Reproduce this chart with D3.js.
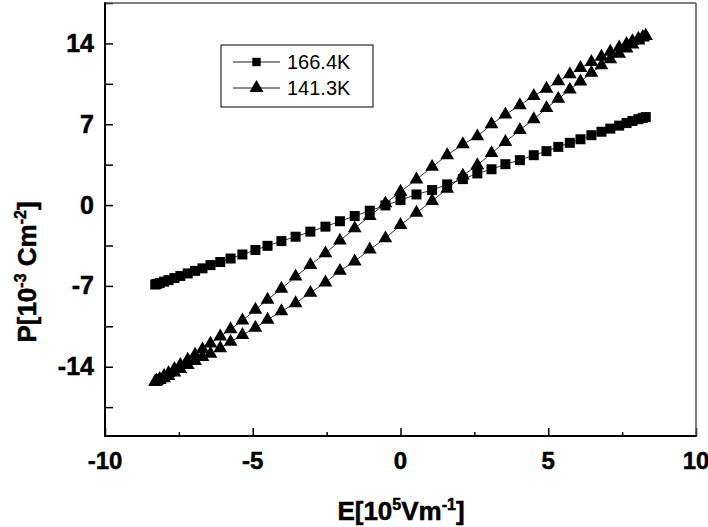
<!DOCTYPE html>
<html>
<head>
<meta charset="utf-8">
<script src="https://cdn.jsdelivr.net/npm/d3@7"></script>
<style>
  html, body { margin: 0; padding: 0; background: #fff; }
  svg { display: block; }
  text { font-family: "Liberation Sans", Arial, sans-serif; }
  .b { font-weight: 700; stroke: #000; stroke-width: 0.5px; }
</style>
</head>
<body>
<svg id="chart" width="708" height="527"></svg>
<script>
// ---- data ----
const fieldE = [-8.3,-8.25,-8.15,-8.0,-7.85,-7.65,-7.45,-7.2,-6.95,-6.7,-6.43,-6.1,-5.75,-5.35,-4.91,-4.5,-4.03,-3.55,-3.05,-2.54,-2.05,-1.55,-1.04,-0.51,0,0.54,1.07,1.58,2.11,2.6,3.08,3.55,4.04,4.51,4.94,5.34,5.73,6.09,6.46,6.8,7.1,7.4,7.65,7.85,8.05,8.2,8.3];

const p166 = [-6.88,-6.84,-6.76,-6.63,-6.50,-6.32,-6.14,-5.92,-5.70,-5.48,-5.20,-4.93,-4.63,-4.28,-3.89,-3.53,-3.12,-2.74,-2.30,-1.87,-1.40,-0.95,-0.49,-0.03,0.43,0.92,1.30,1.79,2.25,2.74,3.10,3.54,3.89,4.32,4.67,5.04,5.39,5.70,6.05,6.35,6.62,6.88,7.10,7.28,7.44,7.55,7.62];

// 141.3K: ascending branch (lower) and descending branch (upper)
const p141Up = [-15.3,-15.25,-15.15,-15.0,-14.8,-14.5,-14.2,-13.85,-13.5,-13.15,-12.88,-12.4,-11.85,-11.25,-10.62,-9.93,-9.2,-8.5,-7.6,-6.7,-5.7,-4.88,-3.85,-2.88,-1.73,-0.66,0.35,1.42,2.55,3.45,4.5,5.47,6.5,7.43,8.4,9.2,10.0,10.7,11.45,12.1,12.62,13.1,13.55,13.9,14.25,14.5,14.65];
const p141Down = [-15.3,-15.2,-15.05,-14.8,-14.55,-14.2,-13.85,-13.4,-12.95,-12.5,-12.0,-11.38,-10.75,-10.0,-9.07,-8.2,-7.25,-6.19,-5.19,-4.18,-3.08,-2.02,-0.95,0.15,1.15,2.22,3.31,4.32,5.27,5.95,7.0,7.84,8.64,9.45,10.08,10.72,11.32,11.87,12.39,12.84,13.28,13.65,13.95,14.2,14.4,14.55,14.65];

const seriesNames = ["166.4K", "141.3K"];
const xTicks = [-10, -5, 0, 5, 10];
const yTicks = [-14, -7, 0, 7, 14];

// ---- layout ----
const svg = d3.select("#chart");
const L = 105, R = 696, T = 3, B = 436;

const x = d3.scaleLinear().domain([-10, 10]).range([L, R]);
const y = d3.scaleLinear().domain([-20, 17.5]).range([B, T]);

// axes (ticks inward)
const xAxis = d3.axisBottom(x).tickValues(d3.range(-10, 10.01, 2.5)).tickSize(-8).tickFormat("");
const gx = svg.append("g").attr("transform", `translate(0,${B})`).call(xAxis);
gx.selectAll(".tick line")
  .attr("y2", d => (d % 5 === 0 ? -8 : -4))
  .attr("stroke", "#000").attr("stroke-width", 1.5);
gx.select(".domain").remove();

const yAxis = d3.axisLeft(y).tickValues(d3.range(-17.5, 17.51, 3.5)).tickSize(-8).tickFormat("");
const gy = svg.append("g").attr("transform", `translate(${L},0)`).call(yAxis);
gy.selectAll(".tick line").attr("stroke", "#000").attr("stroke-width", 1.5);
gy.select(".domain").remove();

// frame
svg.append("line").attr("x1", L).attr("x2", R).attr("y1", T).attr("y2", T).attr("stroke", "#555").attr("stroke-width", 1.5);
svg.append("line").attr("x1", R).attr("x2", R).attr("y1", T).attr("y2", B).attr("stroke", "#555").attr("stroke-width", 1.5);
svg.append("line").attr("x1", L).attr("x2", L).attr("y1", T - 0.75).attr("y2", B + 1).attr("stroke", "#000").attr("stroke-width", 2);
svg.append("line").attr("x1", L - 1).attr("x2", R + 0.75).attr("y1", B).attr("y2", B).attr("stroke", "#000").attr("stroke-width", 2);

// tick labels
svg.append("g").selectAll("text").data(xTicks).join("text")
  .attr("class", "b")
  .attr("x", d => x(d)).attr("y", 469)
  .attr("text-anchor", "middle")
  .attr("font-size", 24)
  .text(d => d);

svg.append("g").selectAll("text").data(yTicks).join("text")
  .attr("class", "b")
  .attr("x", 94).attr("y", d => y(d) + 8.5)
  .attr("text-anchor", "end")
  .attr("font-size", 25)
  .text(d => d);

// axis titles
const xt = svg.append("text").attr("class", "b").attr("x", 401).attr("y", 520)
  .attr("text-anchor", "middle").attr("font-size", 26);
xt.append("tspan").text("E[10");
xt.append("tspan").attr("dy", -10).attr("font-size", 16).text("5");
xt.append("tspan").attr("dy", 10).text("Vm");
xt.append("tspan").attr("dy", -10).attr("font-size", 16).text("-1");
xt.append("tspan").attr("dy", 10).text("]");

const yt = svg.append("text").attr("class", "b")
  .attr("transform", "translate(36,272) rotate(-90)")
  .attr("text-anchor", "middle").attr("font-size", 26);
yt.append("tspan").text("P[10");
yt.append("tspan").attr("dy", -10).attr("font-size", 16).text("-3");
yt.append("tspan").attr("dy", 10).text(" Cm");
yt.append("tspan").attr("dy", -10).attr("font-size", 16).text("-2");
yt.append("tspan").attr("dy", 10).text("]");

// ---- series ----
const line = d3.line().x(d => x(d[0])).y(d => y(d[1]));
const sq = d3.symbol().type(d3.symbolSquare).size(100);
const tri = d3.symbol().type(d3.symbolTriangle).size(82);

const s166 = fieldE.map((e, i) => [e, p166[i]]);
const s141 = fieldE.map((e, i) => [e, p141Up[i]])
  .concat(fieldE.slice().reverse().map((e, i) => [e, p141Down[p141Down.length - 1 - i]]));

const plot = svg.append("g");
plot.append("path").datum(s141).attr("d", line).attr("fill", "none").attr("stroke", "#000").attr("stroke-width", 0.8);
plot.append("path").datum(s166).attr("d", line).attr("fill", "none").attr("stroke", "#000").attr("stroke-width", 0.8);

plot.append("g").selectAll("path").data(s141).join("path")
  .attr("transform", d => `translate(${x(d[0])},${y(d[1])})`)
  .attr("d", tri).attr("fill", "#000");
plot.append("g").selectAll("path").data(s166).join("path")
  .attr("transform", d => `translate(${x(d[0])},${y(d[1])})`)
  .attr("d", sq).attr("fill", "#000");

// ---- legend ----
const lg = svg.append("g");
lg.append("rect").attr("x", 221).attr("y", 45).attr("width", 152).attr("height", 62)
  .attr("fill", "#fff").attr("stroke", "#000").attr("stroke-width", 1);
const rows = [{ name: seriesNames[0], sym: d3.symbol().type(d3.symbolSquare).size(70), yy: 62 },
              { name: seriesNames[1], sym: d3.symbol().type(d3.symbolTriangle).size(85), yy: 88 }];
rows.forEach(r => {
  lg.append("line").attr("x1", 233).attr("x2", 280).attr("y1", r.yy).attr("y2", r.yy)
    .attr("stroke", "#000").attr("stroke-width", 0.9);
  lg.append("path").attr("transform", `translate(256.5,${r.yy})`).attr("d", r.sym).attr("fill", "#000");
  lg.append("text").attr("x", 287).attr("y", r.yy + 7).attr("font-size", 20).text(r.name);
});
</script>
</body>
</html>
